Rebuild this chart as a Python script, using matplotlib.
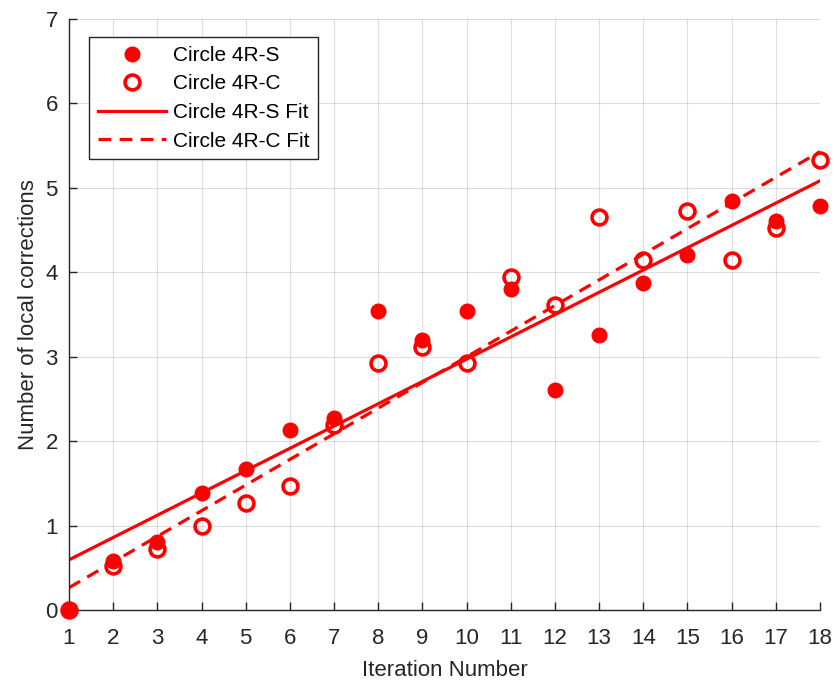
import matplotlib
matplotlib.use("Agg")
import matplotlib.pyplot as plt
import numpy as np

# Values
iterations = np.arange(1, 19)
circle_s = [0.0, 0.58, 0.80, 1.39, 1.67, 2.13, 2.27, 3.54, 3.20, 3.54,
            3.80, 2.60, 3.26, 3.87, 4.20, 4.85, 4.61, 4.79]
circle_c = [0.0, 0.52, 0.72, 1.00, 1.27, 1.47, 2.19, 2.93, 3.12, 2.93,
            3.94, 3.61, 4.66, 4.15, 4.73, 4.14, 4.53, 5.33]
x_ticks = list(range(1, 19))
y_ticks = list(range(0, 8))

RED = "#ff0000"
DARK = "#262626"

plt.rcParams['font.family'] = ['Liberation Sans', 'DejaVu Sans']

fig = plt.figure(figsize=(8.35, 6.81), dpi=100)
ax = fig.add_axes([0.0826, 0.1043, 0.8994, 0.8677])

# linear fits
fit_s = np.polyfit(iterations, circle_s, 1)
fit_c = np.polyfit(iterations, circle_c, 1)

ax.plot(iterations, circle_s, 'o', color=RED, markersize=10.5, label='Circle 4R-S', zorder=3, clip_on=False)
ax.plot(iterations, circle_c, 'o', color=RED, markerfacecolor='none', markersize=10.7,
        markeredgewidth=2.6, label='Circle 4R-C', zorder=3, clip_on=False)
ax.plot(iterations, np.polyval(fit_s, iterations), '-', color=RED, linewidth=2.3,
        label='Circle 4R-S Fit', zorder=2)
ax.plot(iterations, np.polyval(fit_c, iterations), '--', color=RED, linewidth=2.3,
        dashes=(4, 2.6), label='Circle 4R-C Fit', zorder=2)

ax.set_xlim(1, 18)
ax.set_ylim(0, 7)
ax.set_xticks(x_ticks)
ax.set_yticks(y_ticks)
ax.tick_params(direction='in', length=6, width=1, colors=DARK, labelsize=16)
ax.tick_params(axis='x', pad=13)
ax.tick_params(axis='y', pad=8)
ax.grid(True, color='#000000', alpha=0.13, linewidth=0.8)
ax.set_axisbelow(True)
for side in ['top', 'right']:
    ax.spines[side].set_visible(False)
for side in ['left', 'bottom']:
    ax.spines[side].set_color(DARK)
    ax.spines[side].set_linewidth(1)

ax.set_xlabel('Iteration Number', fontsize=16, color=DARK, labelpad=8)
ax.set_ylabel('Number of local corrections', fontsize=16, color=DARK, labelpad=4.5)

leg = ax.legend(loc='upper left', bbox_to_anchor=(0.0266, 0.9695), borderaxespad=0,
                fontsize=15, frameon=True, fancybox=False, handlelength=3.27,
                handletextpad=0.35, labelspacing=0.46, borderpad=0.42, framealpha=1)
leg.get_frame().set_edgecolor(DARK)
leg.get_frame().set_linewidth(1)

fig.savefig('out.png', dpi=100)
